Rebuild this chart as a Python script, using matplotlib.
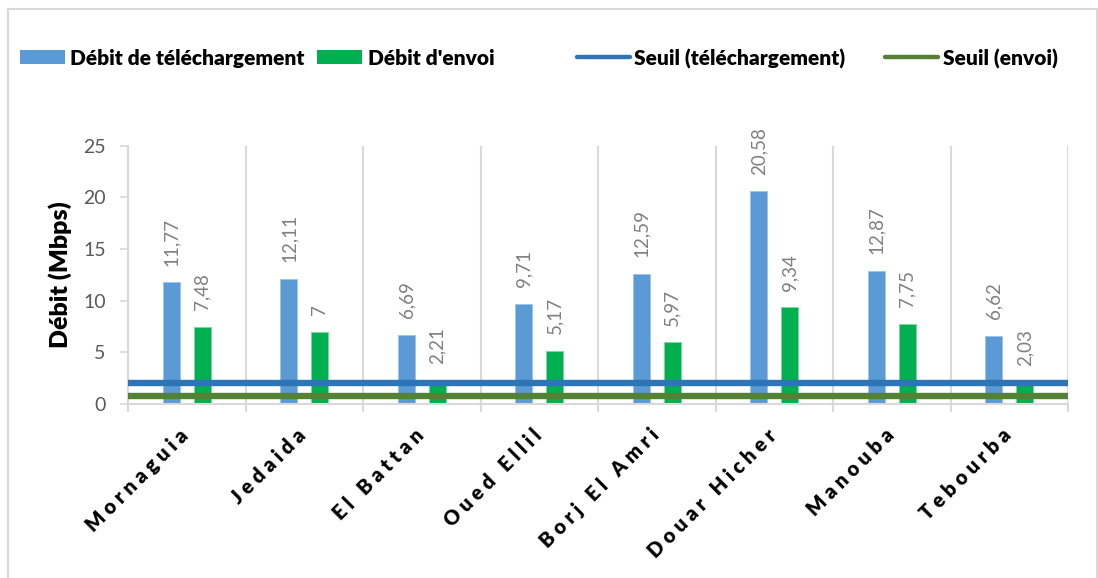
import matplotlib
matplotlib.use("Agg")
import matplotlib.pyplot as plt
from matplotlib.patches import Rectangle
from matplotlib.lines import Line2D
from matplotlib.transforms import ScaledTranslation
import numpy as np

# Data
communes = ["Mornaguia", "Jedaida", "El Battan", "Oued Ellil",
            "Borj El Amri", "Douar Hicher", "Manouba", "Tebourba"]
download = [11.77, 12.11, 6.69, 9.71, 12.59, 20.58, 12.87, 6.62]
upload = [7.48, 7.00, 2.21, 5.17, 5.97, 9.34, 7.75, 2.03]
seuil_download = 2.0
seuil_upload = 0.8
y_ticks = [0, 5, 10, 15, 20, 25]

series_names = ["Débit de téléchargement", "Débit d'envoi",
                "Seuil (téléchargement)", "Seuil (envoi)"]
y_label = "Débit (Mbps)"

# Styles
BLUE = "#5b9bd5"
GREEN = "#00b050"
LINE_BLUE = "#2e75b6"
LINE_GREEN = "#548235"
GRID = "#d9d9d9"
TICK_TXT = "#595959"
LABEL_TXT = "#808080"
FONT = ["Lato", "DejaVu Sans"]

plt.rcParams["font.family"] = FONT

W, H = 1098, 578
fig = plt.figure(figsize=(W / 100, H / 100), dpi=100)
ax = fig.add_axes([128 / W, 1 - 404 / H, (1068 - 128) / W, (404 - 145.7) / H])

x = np.arange(len(communes))
bw = 0.145
off = 0.13
ax.bar(x - off, download, bw, color=BLUE, edgecolor="#9dc3e6", linewidth=0.6, zorder=2)
ax.bar(x + off, upload, bw, color=GREEN, edgecolor="#7fd6a0", linewidth=0.6, zorder=2)

ax.axhline(seuil_download, color=LINE_BLUE, lw=4.6, zorder=3, solid_capstyle="butt")
ax.axhline(seuil_upload, color=LINE_GREEN, lw=4.6, zorder=3, solid_capstyle="butt")


def fmt(v):
    return f"{v:g}".replace(".", ",")


for xs, vals in ((x - off, download), (x + off, upload)):
    for xi, v in zip(xs, vals):
        ax.annotate(fmt(v), (xi, v), xytext=(0, 12), textcoords="offset points",
                    rotation=90, ha="center", va="bottom", color=LABEL_TXT,
                    fontsize=13.5)

ax.set_xlim(-0.5, len(communes) - 0.5)
ax.set_ylim(0, 25)
ax.set_yticks(y_ticks)
ax.set_yticklabels([str(t) for t in y_ticks], color=TICK_TXT, fontsize=14)
ax.tick_params(axis="y", length=6, width=1.2, color=GRID, pad=10)

# Category boundaries as vertical grid lines + ticks
bounds = np.arange(-0.5, len(communes), 1.0)
ax.set_xticks(bounds, minor=True)
ax.set_xticks(x)
ax.tick_params(axis="x", which="minor", length=6, width=1.5, color=GRID, direction="out")
ax.tick_params(axis="x", which="major", length=0, pad=14)
for b in bounds:
    ax.axvline(b, color=GRID, lw=1.5, zorder=0)

spaced = [" ".join(list(c)) for c in communes]
ax.set_xticklabels(spaced, rotation=45, ha="right", va="top", rotation_mode="anchor",
                   fontsize=14.5, fontweight="heavy", color="black")
shift = ScaledTranslation(-8 / 100, -2 / 100, fig.dpi_scale_trans)
for lab in ax.get_xticklabels():
    lab.set_transform(lab.get_transform() + shift)

for s in ["top", "right"]:
    ax.spines[s].set_visible(False)
for s in ["left", "bottom"]:
    ax.spines[s].set_color(GRID)
    ax.spines[s].set_linewidth(1.5)

fig.text(60 / W, 1 - 275 / H, y_label, rotation=90, ha="center", va="center",
         fontsize=18, fontweight="heavy", color="black")

# Legend row drawn in figure pixel coordinates
leg_y = 1 - 57 / H
px = fig.transFigure
entries = [("patch", BLUE, 20, 65, 70),
           ("patch", GREEN, 317, 362, 368),
           ("line", LINE_BLUE, 577, 630, 634),
           ("line", LINE_GREEN, 885, 938, 943)]
for (kind, col, x0, x1, tx), name in zip(entries, series_names):
    if kind == "patch":
        fig.patches.append(Rectangle((x0 / W, (578 - 64) / H), (x1 - x0) / W, 14 / H,
                                     transform=px, facecolor=col, edgecolor="none"))
    else:
        fig.lines.append(Line2D([x0 / W, x1 / W], [leg_y, leg_y], transform=px,
                                color=col, lw=3.2, solid_capstyle="round"))
    fig.text(tx / W, leg_y, name, ha="left", va="center_baseline", fontsize=15,
             fontweight="heavy", color="black")

# Chart border
fig.patches.append(Rectangle((8 / W, -0.05), (1097 - 8) / W, 1 - 9 / H + 0.05,
                             transform=px, fill=False, edgecolor=GRID, linewidth=1.5))

fig.savefig("out.png", dpi=100)
